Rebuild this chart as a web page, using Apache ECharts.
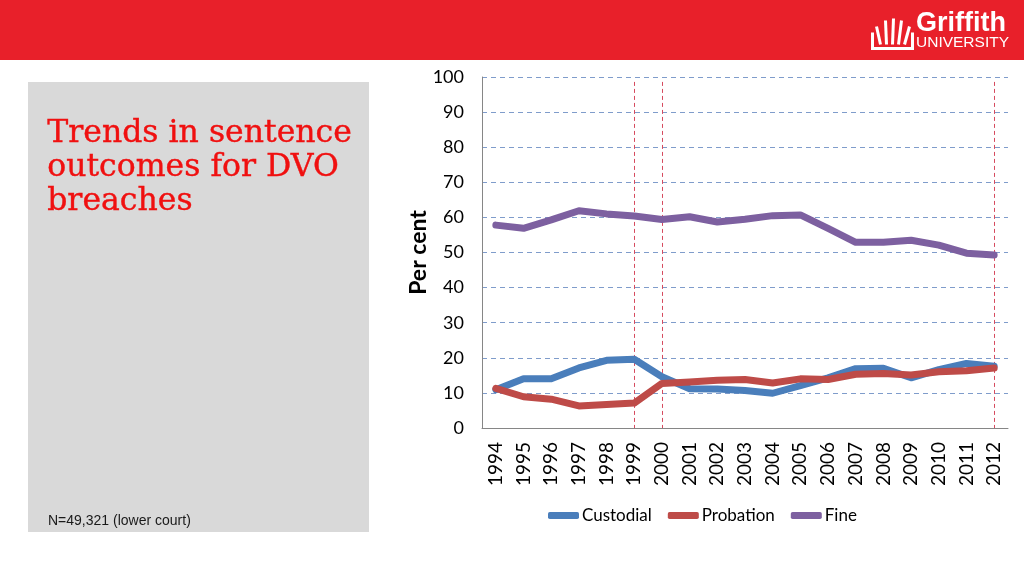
<!DOCTYPE html>
<html><head><meta charset="utf-8">
<style>html,body{margin:0;padding:0;background:#fff;}#c{width:1024px;height:576px;}</style>
<script src="https://cdn.jsdelivr.net/npm/echarts@6/dist/echarts.min.js"></script>
</head><body><div id="c"></div>
<script>
var years = ['1994','1995','1996','1997','1998','1999','2000','2001','2002','2003','2004','2005','2006','2007','2008','2009','2010','2011','2012'];
var custodial = [10.9,14.0,14.0,17.1,19.3,19.6,14.6,11.2,11.1,10.7,9.9,12.1,14.3,16.9,17.0,14.3,16.6,18.4,17.6];
var probation = [11.3,8.9,8.2,6.3,6.7,7.1,12.7,13.1,13.6,13.8,12.8,14.0,13.8,15.3,15.5,15.1,16.0,16.3,17.1];
var fine = [57.8,56.9,59.3,61.9,61.0,60.4,59.4,60.2,58.7,59.5,60.5,60.7,56.9,52.9,52.9,53.5,52.1,49.8,49.3];
var yTicks = [0,10,20,30,40,50,60,70,80,90,100];
var markYears = ['1999','2000','2012'];
var seriesNames = ['Custodial','Probation','Fine'];

var chart = echarts.init(document.getElementById('c'), null, {renderer:'canvas'});
var font = 'Lato, "Open Sans", sans-serif';
var markData = markYears.map(function(y){ return [{xAxis:y, yAxis:98.6},{xAxis:y, yAxis:0}]; });

function mkSeries(name, data, color, withMarks){
  var s = {
    name:name, type:'line', data:data, showSymbol:false, symbol:'none',
    lineStyle:{width:7, color:color, cap:'round', join:'round'},
    itemStyle:{color:color}, z:3
  };
  if(withMarks){
    s.markLine = {silent:true, symbol:['none','none'], label:{show:false},
      lineStyle:{type:[4,3], color:'#D64A5E', width:1}, data:markData, z:1};
  }
  return s;
}

chart.setOption({
  animation:false,
  backgroundColor:'#ffffff',
  graphic:[
    {type:'rect', shape:{x:0,y:0,width:1024,height:60}, style:{fill:'#E8202A'}, z:0},
    {type:'rect', shape:{x:28,y:82,width:341,height:450}, style:{fill:'#D9D9D9'}, z:0},
    {type:'text', left:47, top:117, style:{text:'Trends in sentence\noutcomes for DVO\nbreaches', fill:'#F01010', stroke:'#F01010', lineWidth:0.4, font:'31.5px "DejaVu Serif", serif', lineHeight:34}, z:2},
    {type:'text', left:48, top:514, style:{text:'N=49,321 (lower court)', fill:'#1a1a1a', font:'14px "Liberation Sans", Arial, sans-serif'}, z:2},
    {type:'text', left:916, top:10, style:{text:'Griffith', fill:'#ffffff', font:'bold 27px "Liberation Sans", Arial, sans-serif'}, z:2},
    {type:'text', left:916, top:35, style:{text:'UNIVERSITY', fill:'#ffffff', font:'15.5px "Liberation Sans", Arial, sans-serif'}, z:2},
    {type:'group', left:870, top:16, children:[
      {type:'polyline', shape:{points:[[2,14],[2,30],[42,30],[42,14]]}, style:{stroke:'#fff', lineWidth:3, fill:null}},
      {type:'line', shape:{x1:10,y1:26,x2:6,y2:8}, style:{stroke:'#fff', lineWidth:3}},
      {type:'line', shape:{x1:16,y1:26,x2:15,y2:2}, style:{stroke:'#fff', lineWidth:3}},
      {type:'line', shape:{x1:22,y1:26,x2:23,y2:0}, style:{stroke:'#fff', lineWidth:3}},
      {type:'line', shape:{x1:28,y1:26,x2:31,y2:2}, style:{stroke:'#fff', lineWidth:3}},
      {type:'line', shape:{x1:34,y1:26,x2:39,y2:8}, style:{stroke:'#fff', lineWidth:3}}
    ], z:2}
  ],
  grid:{left:482, right:16, top:77, bottom:148, containLabel:false},
  legend:{
    data:seriesNames, bottom:47, left:543, icon:'roundRect', itemWidth:31, itemHeight:7, itemGap:16,
    textStyle:{fontFamily:font, fontSize:17, color:'#000', padding:[0,0,0,-2]}
  },
  xAxis:{
    type:'category', data:years, boundaryGap:true,
    axisLine:{lineStyle:{color:'#868686', width:1}},
    axisTick:{show:false},
    axisLabel:{rotate:90, fontFamily:font, fontSize:19, color:'#000', margin:14, interval:0},
    splitLine:{show:false}
  },
  yAxis:{
    type:'value', min:0, max:100, interval:10,
    name:'Per cent', nameLocation:'middle', nameGap:52, nameRotate:90, nameMoveOverlap:false,
    nameTextStyle:{fontFamily:font, fontSize:23, fontWeight:'bold', color:'#000'},
    axisLine:{show:true, lineStyle:{color:'#868686', width:1}},
    axisTick:{show:false},
    axisLabel:{fontFamily:font, fontSize:18, color:'#000', margin:18,
      formatter:function(v){ return yTicks.indexOf(v)>=0 ? String(v) : ''; }},
    splitLine:{show:true, lineStyle:{type:[5,4], color:'#7F9CCB', width:1}}
  },
  series:[
    mkSeries('Custodial', custodial, '#4A7EBB', true),
    mkSeries('Probation', probation, '#BE4B48', false),
    mkSeries('Fine', fine, '#7D60A0', false)
  ]
});
</script></body></html>
